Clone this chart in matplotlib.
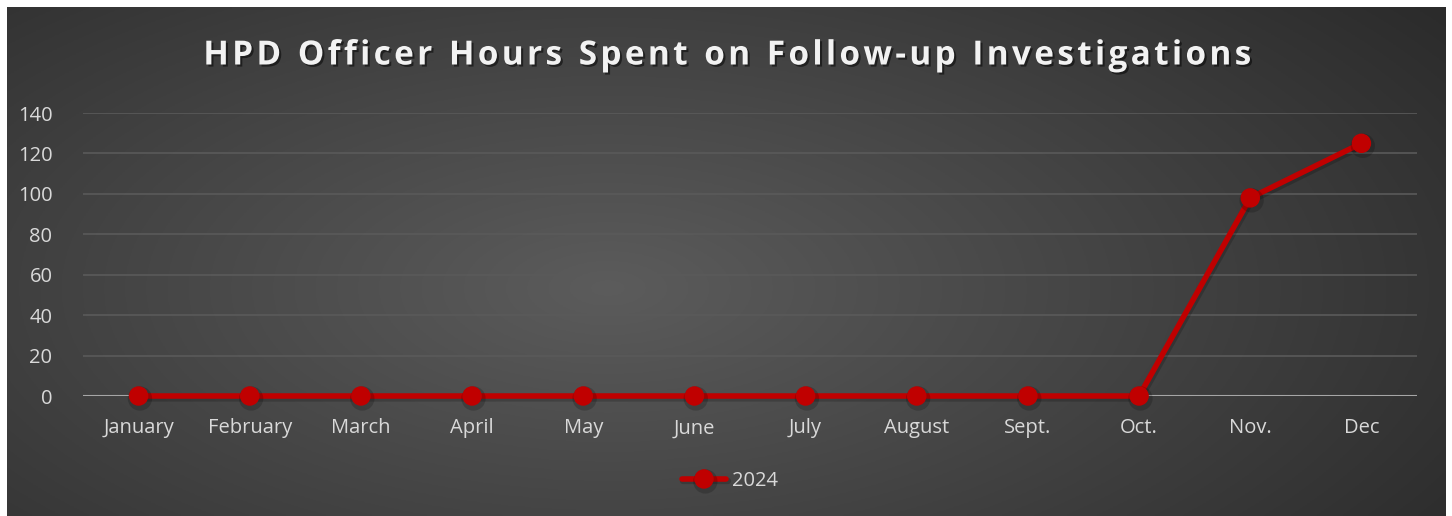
import numpy as np
import matplotlib.pyplot as plt
import matplotlib.patheffects as pe

months = ['January', 'February', 'March', 'April', 'May', 'June', 'July',
          'August', 'Sept.', 'Oct.', 'Nov.', 'Dec']
hours_2024 = [0, 0, 0, 0, 0, 0, 0, 0, 0, 0, 98, 125]
y_ticks = [0, 20, 40, 60, 80, 100, 120, 140]

plt.rcParams['font.family'] = ['Open Sans', 'DejaVu Sans']

W, H = 1452, 516
fig = plt.figure(figsize=(W / 100, H / 100), dpi=100)
fig.patch.set_facecolor('white')

# dark radial gradient background
bg = fig.add_axes([7 / W, 0, (1446 - 7) / W, (516 - 7) / H])
yy, xx = np.mgrid[0:200, 0:600]
cx, cy = 250, 110
r = np.sqrt(((xx - cx) / 600) ** 2 + ((yy - cy) / 260) ** 2)
r = np.clip(r / 0.75, 0, 1)
shade = 0.36 - 0.20 * r
bg.imshow(np.dstack([shade] * 3), aspect='auto', extent=[0, 1, 0, 1])
bg.set_axis_off()

# plot area
ax = fig.add_axes([83 / W, 1 - 396 / H, (1417 - 83) / W, (396 - 113) / H])
ax.set_facecolor('none')
x = np.arange(len(months))

shadow = [pe.SimpleLineShadow(offset=(1, -1.8), shadow_color='black', alpha=0.18, linewidth=4.5),
          pe.Normal()]
ax.plot(x, hours_2024, color='#C00000', lw=4, marker='o', markersize=13,
        solid_capstyle='round', label='2024', zorder=5, path_effects=shadow,
        clip_on=False)

ax.set_xlim(-0.5, len(months) - 0.5)
ax.set_ylim(0, 140)
ax.set_yticks(y_ticks)
ax.set_xticks(x)
ax.set_xticklabels(months)
for yv in y_ticks[1:]:
    ax.axhline(yv, color='#5a5a5a', lw=1.2, zorder=1)
ax.axhline(0, color='#a6a6a6', lw=1.5, zorder=2)
for s in ax.spines.values():
    s.set_visible(False)
ax.tick_params(length=0, colors='#d9d9d9', labelsize=14.5)
ax.tick_params(axis='x', pad=16)
ax.tick_params(axis='y', pad=22)

title = 'HPD Officer Hours Spent on Follow-up Investigations'
spaced = '\u2002'.join('\u200a'.join(w) for w in title.split(' '))
fig.text(0.502, 1 - 56 / H, spaced,
         ha='center', va='center', fontsize=24, fontweight='bold', color='#f2f2f2',
         path_effects=[pe.withSimplePatchShadow(offset=(1.5, -1.5), shadow_rgbFace='black', alpha=0.5)])

leg = fig.legend(loc='center', bbox_to_anchor=(730 / W, 1 - 481 / H), frameon=False,
                 fontsize=14.5, labelcolor='#d9d9d9', handlelength=2.2, handletextpad=0.3)

fig.savefig('out.png', dpi=100, facecolor=fig.get_facecolor())
